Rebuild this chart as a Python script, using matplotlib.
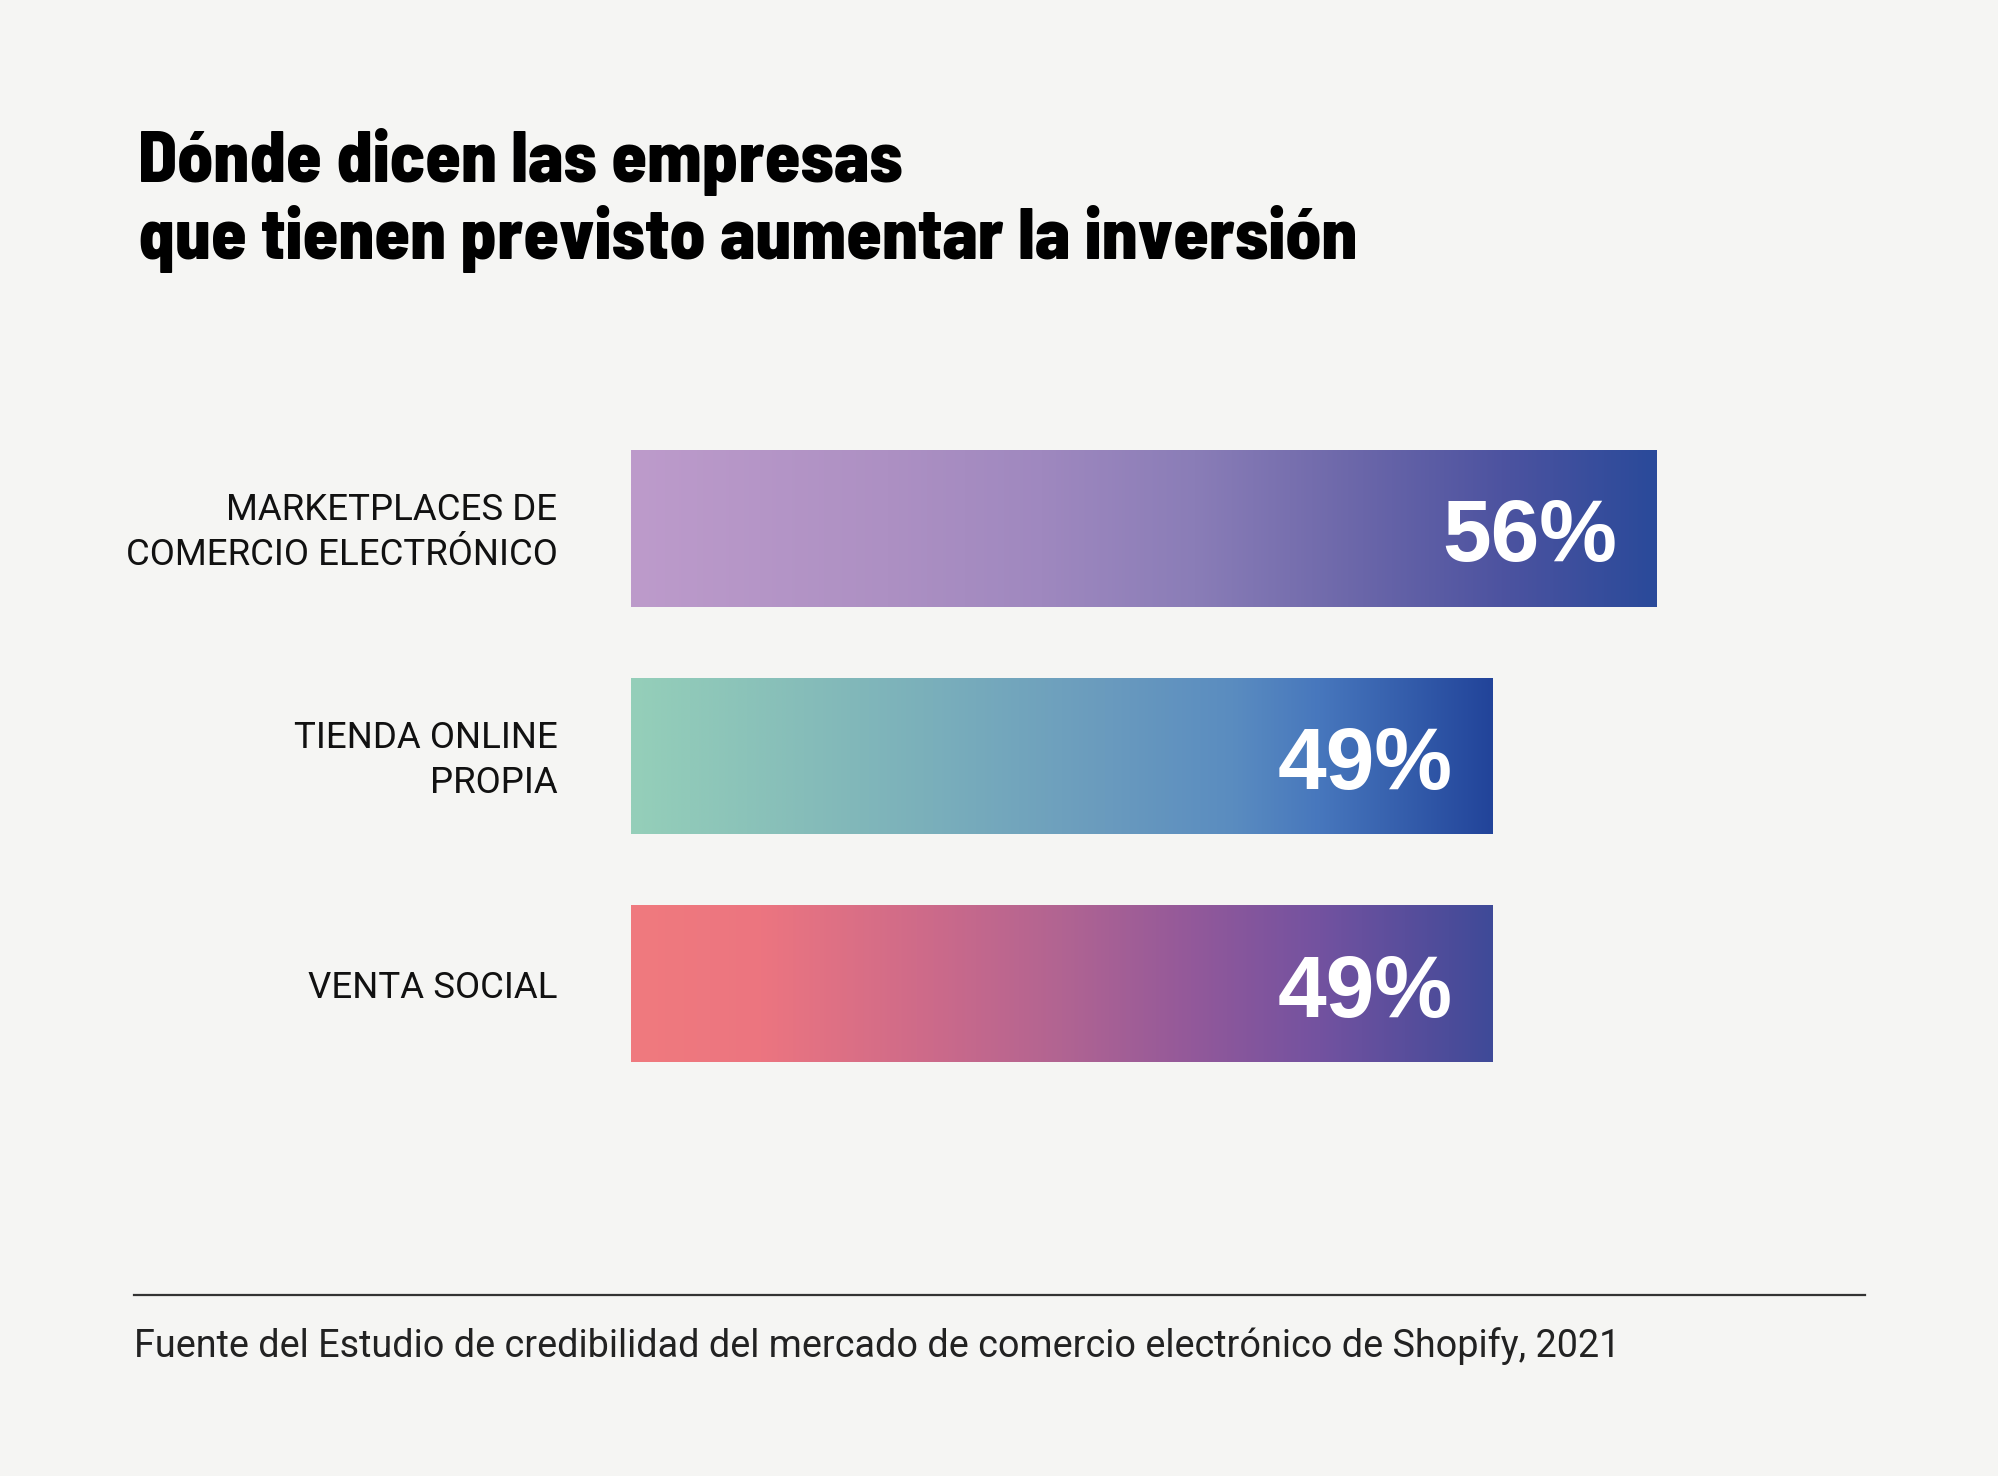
import matplotlib
matplotlib.use("Agg")
import matplotlib.pyplot as plt
import numpy as np
from matplotlib.colors import LinearSegmentedColormap

# ---- data ----
categories = ["MARKETPLACES DE\nCOMERCIO ELECTRÓNICO", "TIENDA ONLINE\nPROPIA", "VENTA SOCIAL"]
values = [56, 49, 49]
value_labels = ["56%", "49%", "49%"]
title_lines = ["Dónde dicen las empresas", "que tienen previsto aumentar la inversión"]
source = "Fuente del Estudio de credibilidad del mercado de comercio electrónico de Shopify, 2021"

gradients = [
    [(0.0, "#BD9BCB"), (0.25, "#AD90C3"), (0.4, "#9F88BF"), (0.55, "#8A7DB7"),
     (0.7, "#6D68AA"), (0.85, "#4D53A0"), (1.0, "#2A4A9A")],
    [(0.0, "#95CFB9"), (0.2, "#86BDB9"), (0.35, "#7AAFBB"), (0.55, "#6A9BBE"),
     (0.7, "#5A8CC0"), (0.8, "#4777BD"), (1.0, "#22449A")],
    [(0.0, "#F07A7E"), (0.15, "#EC7580"), (0.35, "#CC6A8A"), (0.5, "#B16492"),
     (0.65, "#93599A"), (0.8, "#7352A0"), (1.0, "#3F4A98")],
]

BG = "#F5F5F3"
W, H = 1999, 1476
DPI = 100
fig = plt.figure(figsize=(W / DPI, H / DPI), dpi=DPI, facecolor=BG)

# axes placed so bars occupy the same area as the reference
ax_left, ax_right = 631, 1657
ax_top, ax_bot = 450, 1062
ax = fig.add_axes([ax_left / W, 1 - ax_bot / H, (ax_right - ax_left) / W, (ax_bot - ax_top) / H])
ax.set_facecolor("none")
bar_h = 0.6886
x0 = 12.25
ax.set_xlim(x0, max(values))
ax.set_ylim(len(values) - 1 + bar_h / 2, -bar_h / 2)
ax.axis("off")

ypos = np.arange(len(values))
bars = ax.barh(ypos, values, height=bar_h, color="none", edgecolor="none")
grad = np.linspace(0, 1, 512).reshape(1, -1)
for b, v, stops, y in zip(bars, values, gradients, ypos):
    cmap = LinearSegmentedColormap.from_list("g", stops)
    im = ax.imshow(grad, cmap=cmap, aspect="auto",
                   extent=(x0, v, y + bar_h / 2, y - bar_h / 2), interpolation="bicubic")
    im.set_clip_path(b)

for v, lab, y in zip(values, value_labels, ypos):
    ax.annotate(lab, xy=(v, y), xytext=(-29, -1), textcoords="offset points",
                ha="right", va="center_baseline", color="white",
                fontsize=63, fontweight="bold", family="Liberation Sans")

# category labels
for cat, y in zip(categories, ypos):
    ax.annotate(cat, xy=(x0, y), xytext=(-53, -3), textcoords="offset points",
                ha="right", va="center", ma="right", color="#111111",
                fontsize=26.4, family="Roboto", linespacing=1.33)

# title (size fitted so the longer line spans the same width as the reference)
renderer = fig.canvas.get_renderer()
t1 = fig.text(138 / W, 1 - 182 / H, title_lines[0], fontsize=48, fontweight=800,
              family="Barlow Semi Condensed", color="black", va="baseline")
t2 = fig.text(138 / W, 1 - 259 / H, title_lines[1], fontsize=48, fontweight=800,
              family="Barlow Semi Condensed", color="black", va="baseline")
w2 = t2.get_window_extent(renderer).width
fs = 48 * 1220 / w2
t1.set_fontsize(fs)
t2.set_fontsize(fs)

# rule and source
fig.add_artist(plt.Line2D([134 / W, 1865 / W], [1 - 1295 / H, 1 - 1295 / H],
                          color="#333333", linewidth=1.6))
fig.text(134 / W, 1 - 1357 / H, source, fontsize=27.2, family="Roboto",
         color="#222222", va="baseline")

fig.savefig("out.png", dpi=DPI, facecolor=BG)
